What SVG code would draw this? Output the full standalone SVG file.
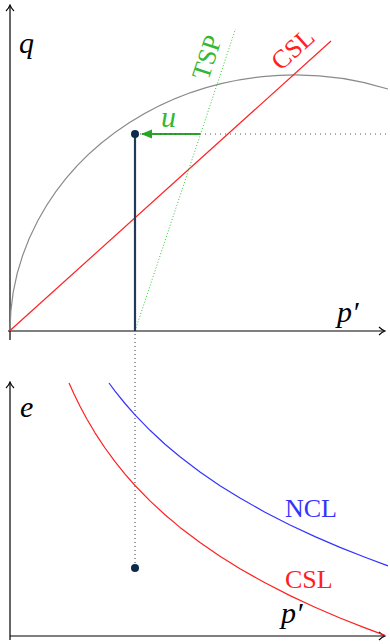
<svg xmlns="http://www.w3.org/2000/svg" width="390" height="644" viewBox="0 0 390 644">
<style>
.ax{stroke:#000;stroke-width:1.2;fill:none}
.lbl{font-family:'Liberation Serif','DejaVu Serif',serif;font-size:26px}
.math{font-family:'Liberation Serif','DejaVu Serif',serif;font-size:30px;font-style:italic}
.crv{fill:none;stroke-width:1.2;stroke-linejoin:round}
</style>
<defs>
<marker id="ah" viewBox="-6 -5 8 10" markerWidth="8" markerHeight="10" refX="0" refY="0" orient="auto" markerUnits="userSpaceOnUse">
<path d="M-5,-4 Q-2,-1 1,0 Q-2,1 -5,4" fill="none" stroke="#000" stroke-width="1.1"/>
</marker>
<marker id="gh" viewBox="-10 -5 11 10" markerWidth="11" markerHeight="10" refX="0" refY="0" orient="auto" markerUnits="userSpaceOnUse">
<path d="M-10,-4.5 L1,0 L-10,4.5 Z" fill="#22aa22"/>
</marker>
</defs>
<g id="axes">
<line class="ax" x1="10" y1="340" x2="10" y2="6" marker-end="url(#ah)"/>
<line class="ax" x1="8" y1="331" x2="384" y2="331" marker-end="url(#ah)" stroke="#555"/>
<line class="ax" x1="10" y1="640" x2="10" y2="383" marker-end="url(#ah)"/>
<line class="ax" x1="10" y1="636" x2="384" y2="636" marker-end="url(#ah)"/>
</g>
<g id="connectors">
<path id="yield" d="M10,331 A285,256 0 0 1 388,89" fill="none" stroke="#8a8a8a" stroke-width="1.2"/>
<line id="csl-top" x1="9.5" y1="331" x2="331" y2="41" stroke="#ff2020" stroke-width="1.2"/>
<line id="tsp" x1="135" y1="331" x2="235.5" y2="29" stroke="#33cc33" stroke-width="1" stroke-dasharray="1 2"/>
<line id="stress-path" x1="135" y1="331" x2="135" y2="134" stroke="#1a3d66" stroke-width="2.2"/>
<line id="u-arrow" x1="200" y1="134" x2="142" y2="134" stroke="#22aa22" stroke-width="2" marker-end="url(#gh)"/>
<line id="hdot" x1="135" y1="134" x2="386" y2="134" stroke="#555" stroke-width="1" stroke-dasharray="1 4"/>
<line id="vdot" x1="135" y1="134" x2="135" y2="568" stroke="#333" stroke-width="1" stroke-dasharray="1 3"/>
<polyline id="csl-bot" class="crv" stroke="#ff2020" points="69,383 74,394.1 80,406.3 87,419.3 95,432.8 105,448 115,461.7 125,474.1 135,485.5 150,500.9 165,514.8 180,527.4 200,542.6 220,556.3 240,568.7 265,582.8 290,595.6 315,607.2 340,618 365,627.9 385,635.4"/>
<polyline id="ncl" class="crv" stroke="#3333ff" points="109,383 115,391.1 125,403.5 135,414.9 150,430.3 165,444.2 180,456.8 200,472 220,485.7 240,498.1 265,512.2 290,525 315,536.6 340,547.4 365,557.3 388,565.9"/>
</g>
<g id="point-top"><circle cx="135" cy="134" r="4" fill="#0d2a4a"/></g>
<g id="point-bottom"><circle cx="135" cy="568" r="4" fill="#0d2a4a"/></g>
<g id="labels">
<text class="math" x="19" y="53">q</text>
<text class="math" x="337" y="322">p′</text>
<text class="math" x="161" y="127" fill="#33b833">u</text>
<text class="lbl" fill="#33b833" text-anchor="middle" transform="translate(215,60) rotate(-71.7)">TSP</text>
<text class="lbl" fill="#ff2020" text-anchor="middle" transform="translate(298.5,55.5) rotate(-42)">CSL</text>
<text class="math" x="20" y="417">e</text>
<text class="lbl" x="285" y="517" fill="#3333ff">NCL</text>
<text class="lbl" x="285" y="588" fill="#ff2020">CSL</text>
<text class="math" x="281" y="623">p′</text>
</g>
</svg>
